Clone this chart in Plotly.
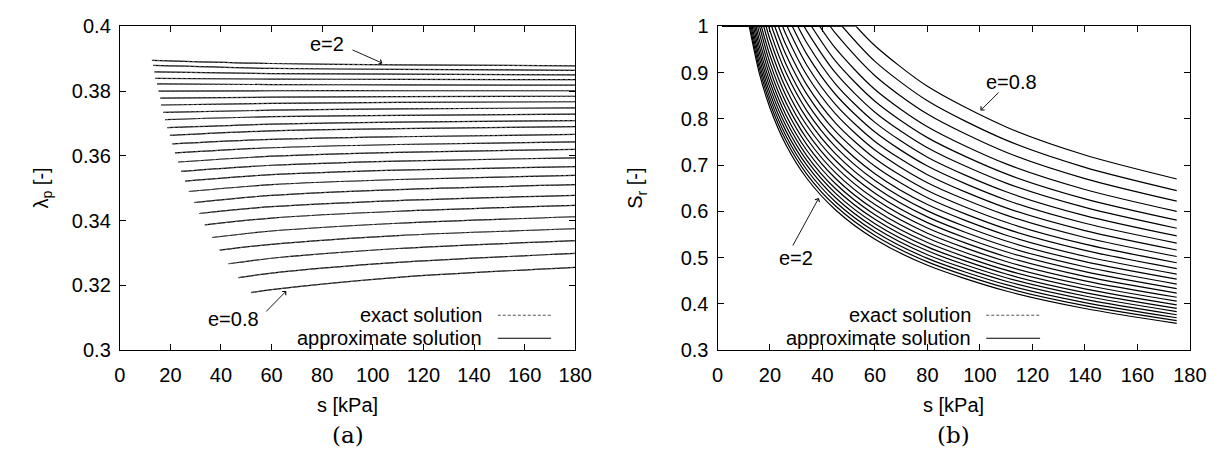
import plotly.graph_objects as go

# ---------------- panel (a): lambda_p vs s ----------------
LP_S0 = [12.7, 13.2, 13.7, 14.0, 14.7, 15.3, 16.0, 16.3, 17.2, 17.9, 18.8, 19.8, 20.8,
         21.8, 23.1, 24.2, 25.8, 27.3, 29.4, 31.4, 33.6, 36.5, 39.5, 43.0, 46.9, 51.9]
LP_L0 = [0.3895, 0.3879, 0.3859, 0.3839, 0.3822, 0.3800, 0.3778, 0.3757, 0.3734, 0.3712,
         0.3687, 0.3663, 0.3637, 0.3609, 0.3581, 0.3552, 0.3522, 0.3490, 0.3456, 0.3422,
         0.3387, 0.3348, 0.3309, 0.3267, 0.3224, 0.3178]
LP_GRID = [60, 110, 180]
LP_L60 = [0.3885, 0.3870, 0.3854, 0.3837, 0.3820, 0.3801, 0.3781, 0.3762, 0.3741, 0.3721,
          0.3698, 0.3677, 0.3651, 0.3625, 0.3599, 0.3571, 0.3542, 0.3511, 0.3478, 0.3443,
          0.3408, 0.3368, 0.3327, 0.3284, 0.3238, 0.3187]
LP_L110 = [0.3881, 0.3867, 0.3852, 0.3836, 0.3819, 0.3801, 0.3783, 0.3765, 0.3745, 0.3725,
           0.3704, 0.3684, 0.3659, 0.3635, 0.3611, 0.3584, 0.3556, 0.3527, 0.3496, 0.3462,
           0.3429, 0.3392, 0.3354, 0.3314, 0.3271, 0.3225]
LP_L180 = [0.3878, 0.3864, 0.3850, 0.3835, 0.3818, 0.3801, 0.3784, 0.3767, 0.3748, 0.3729,
           0.3709, 0.3690, 0.3666, 0.3643, 0.3620, 0.3594, 0.3567, 0.3540, 0.3511, 0.3478,
           0.3447, 0.3412, 0.3375, 0.3338, 0.3299, 0.3256]

# ---------------- panel (b): S_r vs s ----------------
SR_START = 2.0
SR_ENTRY = [52.8, 47.5, 42.9, 38.9, 35.8, 33.0, 30.6, 28.5, 26.5, 24.8, 23.2, 21.8, 20.6,
            19.5, 18.5, 17.6, 16.7, 16.0, 15.3, 14.7, 14.2, 13.7, 13.2, 12.8, 12.4, 12.1]
SR_GRID = [16, 20, 26, 34, 45, 60, 80, 110, 140, 175]
N = None
SR_VALUES = [
    [N, N, N, N, N, 0.9580, 0.8702, 0.7824, 0.7218, 0.670],
    [N, N, N, N, N, 0.9242, 0.8390, 0.7539, 0.6952, 0.645],
    [N, N, N, N, 0.9844, 0.8932, 0.8104, 0.7277, 0.6708, 0.622],
    [N, N, N, N, 0.9521, 0.8634, 0.7830, 0.7026, 0.6473, 0.600],
    [N, N, N, N, 0.9245, 0.8379, 0.7594, 0.6810, 0.6271, 0.581],
    [N, N, N, 0.9901, 0.8991, 0.8144, 0.7376, 0.6611, 0.6085, 0.5635],
    [N, N, N, 0.9643, 0.8751, 0.7923, 0.7171, 0.6424, 0.5909, 0.547],
    [N, N, N, 0.9399, 0.8526, 0.7714, 0.6979, 0.6247, 0.5744, 0.5315],
    [N, N, N, 0.9164, 0.8308, 0.7512, 0.6793, 0.6076, 0.5585, 0.5165],
    [N, N, 0.9832, 0.8946, 0.8106, 0.7325, 0.6620, 0.5918, 0.5436, 0.5025],
    [N, N, 0.9604, 0.8734, 0.7909, 0.7143, 0.6451, 0.5764, 0.5292, 0.489],
    [N, N, 0.9394, 0.8538, 0.7727, 0.6975, 0.6296, 0.5621, 0.5159, 0.4765],
    [N, N, 0.9192, 0.8351, 0.7553, 0.6814, 0.6147, 0.5485, 0.5031, 0.4645],
    [N, 0.9901, 0.9009, 0.8179, 0.7394, 0.6667, 0.6011, 0.5360, 0.4914, 0.4535],
    [N, 0.9714, 0.8834, 0.8016, 0.7243, 0.6527, 0.5881, 0.5241, 0.4803, 0.443],
    [N, 0.9536, 0.8668, 0.7861, 0.7099, 0.6393, 0.5757, 0.5127, 0.4697, 0.433],
    [N, 0.9368, 0.8510, 0.7714, 0.6962, 0.6266, 0.5640, 0.5019, 0.4595, 0.4235],
    [N, 0.9208, 0.8361, 0.7575, 0.6832, 0.6146, 0.5529, 0.4917, 0.4500, 0.4145],
    [0.9839, 0.9059, 0.8221, 0.7444, 0.6711, 0.6033, 0.5424, 0.4821, 0.4410, 0.406],
    [0.9691, 0.8919, 0.8090, 0.7321, 0.6596, 0.5927, 0.5326, 0.4730, 0.4325, 0.398],
    [0.9554, 0.8789, 0.7968, 0.7207, 0.6490, 0.5828, 0.5233, 0.4646, 0.4245, 0.3905],
    [0.9428, 0.8669, 0.7855, 0.7101, 0.6390, 0.5735, 0.5148, 0.4567, 0.4171, 0.3835],
    [0.9305, 0.8552, 0.7745, 0.6998, 0.6294, 0.5646, 0.5064, 0.4490, 0.4099, 0.3767],
    [0.9188, 0.8441, 0.7640, 0.6900, 0.6203, 0.5561, 0.4985, 0.4416, 0.4030, 0.3702],
    [0.9078, 0.8336, 0.7541, 0.6807, 0.6115, 0.5479, 0.4909, 0.4346, 0.3964, 0.364],
    [0.8971, 0.8234, 0.7445, 0.6716, 0.6031, 0.5400, 0.4836, 0.4279, 0.3901, 0.358],
]

X_TICKS = [0, 20, 40, 60, 80, 100, 120, 140, 160, 180]
YA_TICKS = [0.3, 0.32, 0.34, 0.36, 0.38, 0.4]
YA_TEXT = ["0.3", "0.32", "0.34", "0.36", "0.38", "0.4"]
YB_TICKS = [0.3, 0.4, 0.5, 0.6, 0.7, 0.8, 0.9, 1.0]
YB_TEXT = ["0.3", "0.4", "0.5", "0.6", "0.7", "0.8", "0.9", "1"]

FONT = "Liberation Sans, Arial, Helvetica, sans-serif"
FS = 20
LW = 1.2

fig = go.Figure()

# panel (a) curves
for i in range(len(LP_S0)):
    xs = [LP_S0[i]] + LP_GRID
    ys = [LP_L0[i], LP_L60[i], LP_L110[i], LP_L180[i]]
    fig.add_trace(go.Scatter(x=xs, y=ys, mode="lines", xaxis="x", yaxis="y",
                             line=dict(color="black", width=LW, shape="spline", smoothing=0.8),
                             showlegend=False, hoverinfo="skip"))
for i in range(len(LP_S0)):
    xs = [LP_S0[i]] + LP_GRID
    ys = [LP_L0[i], LP_L60[i], LP_L110[i], LP_L180[i]]
    fig.add_trace(go.Scatter(x=xs, y=ys, mode="lines", xaxis="x", yaxis="y",
                             line=dict(color="#777777", width=0.8, dash="3px,2px",
                                       shape="spline", smoothing=0.8),
                             showlegend=False, hoverinfo="skip"))

# panel (b) curves
for i in range(len(SR_ENTRY)):
    fig.add_trace(go.Scatter(x=[SR_START, SR_ENTRY[i]], y=[1.0, 1.0], mode="lines",
                             xaxis="x2", yaxis="y2", line=dict(color="black", width=LW),
                             showlegend=False, hoverinfo="skip"))
    xs2 = [SR_ENTRY[i]] + [g for g, v in zip(SR_GRID, SR_VALUES[i]) if v is not None]
    ys2 = [1.0] + [v for v in SR_VALUES[i] if v is not None]
    fig.add_trace(go.Scatter(x=xs2, y=ys2, mode="lines", xaxis="x2", yaxis="y2",
                             line=dict(color="black", width=LW, shape="spline", smoothing=0.8),
                             showlegend=False, hoverinfo="skip"))

axis_common = dict(showline=True, linecolor="black", linewidth=1, mirror="ticks",
                   ticks="inside", ticklen=6, tickcolor="black", showgrid=False,
                   zeroline=False, tickfont=dict(family=FONT, size=FS, color="black"))

YDOM = [0.2377, 0.9657]
XDOM_A = [0.0942, 0.4712]
XDOM_B = [0.5890, 0.9800]
fig.update_layout(
    width=1231, height=467,
    margin=dict(l=0, r=0, t=0, b=0),
    paper_bgcolor="white", plot_bgcolor="white",
    xaxis=dict(domain=XDOM_A, range=[0, 180], tickvals=X_TICKS, anchor="y",
               ticklabelstandoff=7, **axis_common),
    yaxis=dict(domain=YDOM, range=[0.3, 0.4], tickvals=YA_TICKS, ticktext=YA_TEXT,
               anchor="x", ticklabelstandoff=4, **axis_common),
    xaxis2=dict(domain=XDOM_B, range=[0, 180], tickvals=X_TICKS, anchor="y2",
                ticklabelstandoff=7, **axis_common),
    yaxis2=dict(domain=YDOM, range=[0.3, 1.0], tickvals=YB_TICKS, ticktext=YB_TEXT,
                anchor="x2", ticklabelstandoff=4, **axis_common),
)

ann_font = dict(family=FONT, size=FS, color="black")
annotations = []
# axis titles
annotations += [
    dict(xref="paper", yref="paper", x=(XDOM_A[0] + XDOM_A[1]) / 2, y=0.115, text="s [kPa]",
         showarrow=False, xanchor="center", yanchor="middle", font=ann_font),
    dict(xref="paper", yref="paper", x=(XDOM_B[0] + XDOM_B[1]) / 2, y=0.115, text="s [kPa]",
         showarrow=False, xanchor="center", yanchor="middle", font=ann_font),
    dict(xref="paper", yref="paper", x=0.030, y=(YDOM[0] + YDOM[1]) / 2, text="λ<sub>p</sub> [-]",
         textangle=-90, showarrow=False, xanchor="center", yanchor="middle", font=ann_font),
    dict(xref="paper", yref="paper", x=0.522, y=(YDOM[0] + YDOM[1]) / 2, text="S<sub>r</sub> [-]",
         textangle=-90, showarrow=False, xanchor="center", yanchor="middle", font=ann_font),
]
# legend-like labels inside plots
LEG_Y = [0.108, 0.037]
for xr, yr, xt in [("x domain", "y domain", 0.80), ("x2 domain", "y2 domain", 0.54)]:
    annotations.append(dict(xref=xr, yref=yr, x=xt, y=LEG_Y[0], text="exact solution",
                            showarrow=False, xanchor="right", yanchor="middle", font=ann_font))
    annotations.append(dict(xref=xr, yref=yr, x=xt, y=LEG_Y[1], text="approximate solution",
                            showarrow=False, xanchor="right", yanchor="middle", font=ann_font))

arrow_style = dict(text="", showarrow=True, arrowhead=4, arrowsize=1.1, arrowwidth=0.9,
                   arrowcolor="black")
# e labels with arrows
annotations += [
    dict(xref="x", yref="y", x=82, y=0.3946, text="e=2", showarrow=False, font=ann_font),
    dict(xref="x", yref="y", axref="x", ayref="y", x=103.8, y=0.3886, ax=91.4, ay=0.3929,
         **arrow_style),
    dict(xref="x", yref="y", x=45, y=0.3096, text="e=0.8", showarrow=False, font=ann_font),
    dict(xref="x", yref="y", axref="x", ayref="y", x=65.8, y=0.3183, ax=57.3, ay=0.3115,
         **arrow_style),
    dict(xref="x2", yref="y2", x=112.2, y=0.8795, text="e=0.8", showarrow=False, font=ann_font),
    dict(xref="x2", yref="y2", axref="x2", ayref="y2", x=100.2, y=0.818, ax=107.7, ay=0.860,
         **arrow_style),
    dict(xref="x2", yref="y2", x=29.9, y=0.4995, text="e=2", showarrow=False, font=ann_font),
    dict(xref="x2", yref="y2", axref="x2", ayref="y2", x=38.6, y=0.629, ax=28.4, ay=0.523,
         **arrow_style),
]

# panel captions
cap_font = dict(family="DejaVu Serif, Liberation Serif, serif", size=23, color="black")
annotations += [
    dict(xref="paper", yref="paper", x=(XDOM_A[0] + XDOM_A[1]) / 2, y=0.047, text="(a)",
         showarrow=False, xanchor="center", yanchor="middle", font=cap_font),
    dict(xref="paper", yref="paper", x=(XDOM_B[0] + XDOM_B[1]) / 2, y=0.047, text="(b)",
         showarrow=False, xanchor="center", yanchor="middle", font=cap_font),
]
fig.update_layout(annotations=annotations)

# legend line samples
shapes = []
for xr, yr, x0, x1 in [("x domain", "y domain", 0.83, 0.947),
                       ("x2 domain", "y2 domain", 0.569, 0.683)]:
    shapes.append(dict(type="line", xref=xr, yref=yr, x0=x0, x1=x1, y0=LEG_Y[0], y1=LEG_Y[0],
                       line=dict(color="#555555", width=1, dash="3px,2px")))
    shapes.append(dict(type="line", xref=xr, yref=yr, x0=x0, x1=x1, y0=LEG_Y[1], y1=LEG_Y[1],
                       line=dict(color="black", width=LW)))
fig.update_layout(shapes=shapes)

fig.write_html("out.html")
